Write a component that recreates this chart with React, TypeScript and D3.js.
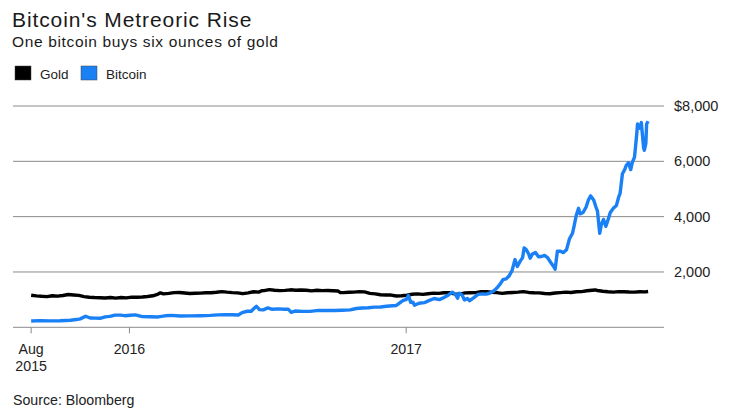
import React from "react";
import * as d3 from "d3";

const btcDates = [
  "2015-08-24","2015-09-05","2015-09-18","2015-10-01","2015-10-15","2015-10-23","2015-10-28","2015-11-04","2015-11-10","2015-11-17",
  "2015-11-23","2015-11-30","2015-12-06","2015-12-13","2015-12-20","2015-12-26","2016-01-02","2016-01-09","2016-01-18","2016-01-28",
  "2016-02-08","2016-02-17","2016-02-26","2016-03-08","2016-03-21","2016-04-04","2016-04-17","2016-04-27","2016-05-07","2016-05-16",
  "2016-05-24","2016-05-29","2016-06-05","2016-06-10","2016-06-14","2016-06-17","2016-06-21","2016-06-26","2016-07-02","2016-07-08",
  "2016-07-16","2016-07-24","2016-07-29","2016-08-02","2016-08-07","2016-08-17","2016-08-27","2016-09-07","2016-09-17","2016-09-28",
  "2016-10-08","2016-10-19","2016-10-27","2016-11-04","2016-11-12","2016-11-20","2016-11-28","2016-12-06","2016-12-14","2016-12-19",
  "2016-12-24","2016-12-28","2017-01-01","2017-01-04","2017-01-07","2017-01-10","2017-01-12","2017-01-18","2017-01-25","2017-01-31",
  "2017-02-07","2017-02-14","2017-02-20","2017-02-26","2017-03-03","2017-03-07","2017-03-10","2017-03-12","2017-03-16","2017-03-19",
  "2017-03-23","2017-03-26","2017-04-01","2017-04-06","2017-04-11","2017-04-17","2017-04-22","2017-04-27","2017-05-01","2017-05-05",
  "2017-05-09","2017-05-13","2017-05-17","2017-05-21","2017-05-25","2017-05-28","2017-06-01","2017-06-04","2017-06-06","2017-06-09",
  "2017-06-12","2017-06-14","2017-06-17","2017-06-21","2017-06-25","2017-06-29","2017-07-03","2017-07-07","2017-07-11","2017-07-15",
  "2017-07-17","2017-07-20","2017-07-24","2017-07-28","2017-08-01","2017-08-05","2017-08-09","2017-08-11","2017-08-14","2017-08-17",
  "2017-08-19","2017-08-23","2017-08-27","2017-08-30","2017-09-02","2017-09-06","2017-09-09","2017-09-11","2017-09-14","2017-09-16",
  "2017-09-19","2017-09-22","2017-09-24","2017-09-28","2017-10-02","2017-10-06","2017-10-09","2017-10-11","2017-10-14","2017-10-17",
  "2017-10-19","2017-10-22","2017-10-25","2017-10-27","2017-10-30","2017-11-02","2017-11-03","2017-11-06","2017-11-08","2017-11-11",
  "2017-11-12","2017-11-14","2017-11-15","2017-11-17",
];
const btcValues = [
  228,240,232,238,255,280,305,400,335,330,
  325,375,395,440,440,420,435,450,385,380,
  375,415,430,410,412,420,430,450,460,455,
  445,530,580,580,690,760,640,630,700,650,
  665,655,655,540,590,575,575,610,608,605,
  615,630,680,700,705,730,735,760,780,790,
  890,970,1000,1150,900,905,800,870,890,965,
  1040,1000,1080,1170,1270,1200,1050,1230,1170,990,
  1040,960,1080,1190,1210,1200,1240,1320,1420,1550,
  1720,1750,1850,2050,2450,2200,2400,2520,2870,2800,
  2650,2500,2650,2700,2550,2560,2600,2520,2350,2200,
  2100,2750,2750,2700,2800,3200,3400,3650,4050,4300,
  4100,4150,4350,4600,4750,4600,4350,4200,3400,3700,
  3900,3650,3800,4150,4300,4400,4700,4850,5550,5700,
  5850,5950,5700,5950,6150,7000,7350,7200,7400,6500,
  6400,6650,7350,7450,
];

const goldDates = [
  "2015-08-24","2015-08-31","2015-09-07","2015-09-14","2015-09-21","2015-09-28","2015-10-05","2015-10-12","2015-10-19","2015-10-26",
  "2015-11-02","2015-11-09","2015-11-16","2015-11-23","2015-11-30","2015-12-07","2015-12-14","2015-12-21","2015-12-28","2016-01-04",
  "2016-01-11","2016-01-18","2016-01-25","2016-02-01","2016-02-08","2016-02-11","2016-02-15","2016-02-22","2016-02-29","2016-03-07",
  "2016-03-14","2016-03-21","2016-03-28","2016-04-04","2016-04-11","2016-04-18","2016-04-25","2016-05-02","2016-05-09","2016-05-16",
  "2016-05-23","2016-05-30","2016-06-06","2016-06-13","2016-06-20","2016-06-24","2016-06-27","2016-07-04","2016-07-11","2016-07-18",
  "2016-07-25","2016-08-01","2016-08-08","2016-08-15","2016-08-22","2016-08-29","2016-09-05","2016-09-12","2016-09-19","2016-09-26",
  "2016-10-03","2016-10-06","2016-10-10","2016-10-17","2016-10-24","2016-10-31","2016-11-07","2016-11-14","2016-11-21","2016-11-28",
  "2016-12-05","2016-12-12","2016-12-19","2016-12-26","2017-01-02","2017-01-09","2017-01-16","2017-01-23","2017-01-30","2017-02-06",
  "2017-02-13","2017-02-20","2017-02-27","2017-03-06","2017-03-13","2017-03-20","2017-03-27","2017-04-03","2017-04-10","2017-04-17",
  "2017-04-24","2017-05-01","2017-05-08","2017-05-15","2017-05-22","2017-05-29","2017-06-05","2017-06-12","2017-06-19","2017-06-26",
  "2017-07-03","2017-07-10","2017-07-17","2017-07-24","2017-07-31","2017-08-07","2017-08-14","2017-08-21","2017-08-28","2017-09-04",
  "2017-09-08","2017-09-11","2017-09-18","2017-09-25","2017-10-02","2017-10-09","2017-10-16","2017-10-23","2017-10-30","2017-11-06",
  "2017-11-13","2017-11-17",
];
const goldValues = [
  1160,1135,1120,1110,1140,1125,1150,1185,1170,1155,
  1110,1085,1075,1070,1060,1075,1055,1075,1065,1090,
  1085,1095,1115,1140,1200,1245,1210,1225,1255,1260,
  1240,1220,1230,1235,1250,1250,1265,1290,1270,1255,
  1245,1215,1245,1285,1270,1320,1325,1360,1340,1325,
  1335,1355,1340,1350,1340,1315,1340,1325,1330,1320,
  1310,1255,1255,1265,1270,1290,1280,1225,1210,1175,
  1170,1165,1130,1140,1160,1195,1210,1190,1215,1235,
  1225,1250,1250,1205,1200,1245,1250,1255,1285,1290,
  1265,1255,1225,1250,1260,1270,1290,1260,1250,1245,
  1220,1215,1240,1255,1270,1260,1285,1290,1320,1340,
  1350,1330,1305,1285,1270,1290,1285,1275,1270,1285,
  1280,1295,
];

const yTicks = [2000, 4000, 6000, 8000];
const yTickLabels = ["2,000", "4,000", "6,000", "$8,000"];
const xTickDates = ["2015-08-24", "2016-01-01", "2017-01-01"];
const xTickLabels = [["Aug", "2015"], ["2016"], ["2017"]];
const seriesNames = ["Gold", "Bitcoin"];
const seriesColors = ["#000000", "#1a80f5"];

const parse = d3.timeParse("%Y-%m-%d");

export default function App() {
  const W = 739, H = 419;
  const x = d3.scaleTime()
    .domain([parse("2015-07-31")!, parse("2017-12-08")!])
    .range([13, 664]);
  const y = d3.scaleLinear().domain([0, 8000]).range([327.3, 106]);

  const btc = btcDates.map((d, i) => ({ d: parse(d)!, v: btcValues[i] }));
  const gold = goldDates.map((d, i) => ({ d: parse(d)!, v: goldValues[i] }));
  const line = d3.line<{ d: Date; v: number }>().x(p => x(p.d)).y(p => y(p.v));

  const font = "'Liberation Sans', Arial, Helvetica, sans-serif";
  const grid = "#8a8a8a";
  const txt = "#222";

  return (
    <svg width={W} height={H} style={{ position: "absolute", left: 0, top: 0, background: "#fff" }} fontFamily={font}>
      <text x={12} y={27} fontSize={21} letterSpacing={0.9} fill="#1a1a1a">Bitcoin's Metreoric Rise</text>
      <text x={12} y={47} fontSize={15.5} letterSpacing={0.65} fill="#1a1a1a">One bitcoin buys six ounces of gold</text>
      {seriesNames.map((n, i) => {
        const lx = i === 0 ? 15 : 81;
        return (
          <g key={n}>
            <rect x={lx} y={66} width={16} height={14} fill={seriesColors[i]} stroke="#444" strokeWidth={0.5} />
            <text x={lx + 25} y={78.5} fontSize={13.5} fill={txt}>{n}</text>
          </g>
        );
      })}
      {yTicks.map((t, i) => (
        <g key={t}>
          <line x1={13} x2={664} y1={y(t)} y2={y(t)} stroke={grid} strokeWidth={1} />
          <text x={674} y={y(t) + 5} fontSize={14.5} fill={txt}>{yTickLabels[i]}</text>
        </g>
      ))}
      <line x1={13} x2={664} y1={y(0)} y2={y(0)} stroke={grid} strokeWidth={1} />
      {xTickDates.map((d, i) => {
        const tx = x(parse(d)!);
        return (
          <g key={d}>
            <line x1={tx} x2={tx} y1={y(0)} y2={y(0) + 6} stroke={grid} strokeWidth={1} />
            {xTickLabels[i].map((l, j) => (
              <text key={l} x={tx} y={354 + j * 17} fontSize={14.2} fill={txt} textAnchor="middle">{l}</text>
            ))}
          </g>
        );
      })}
      <path d={line(gold) || ""} fill="none" stroke={seriesColors[0]} strokeWidth={3.4} strokeLinejoin="round" />
      <path d={line(btc) || ""} fill="none" stroke={seriesColors[1]} strokeWidth={3.4} strokeLinejoin="round" />
      <text x={13} y={405} fontSize={14.2} fill={txt}>Source: Bloomberg</text>
    </svg>
  );
}
